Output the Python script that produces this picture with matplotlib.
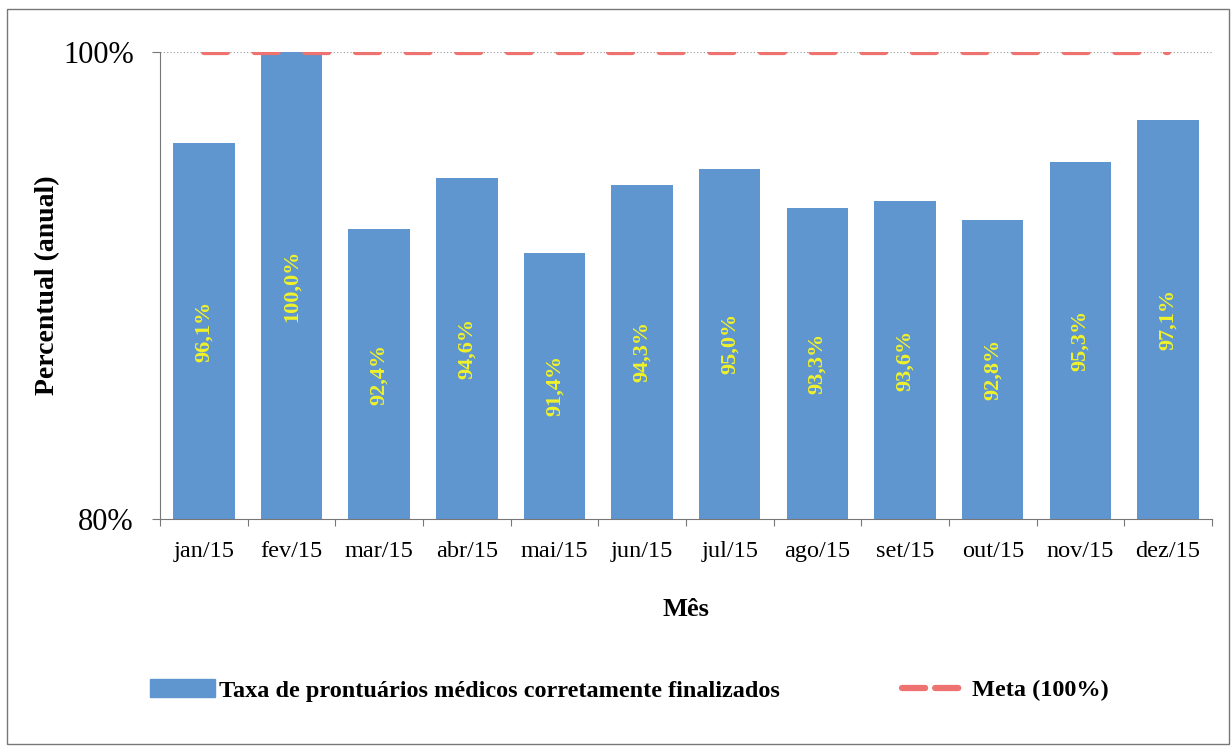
import numpy as np
import matplotlib.pyplot as plt
from matplotlib.patches import Rectangle
from matplotlib.lines import Line2D
from matplotlib.patches import Patch

meses = ["jan/15", "fev/15", "mar/15", "abr/15", "mai/15", "jun/15",
         "jul/15", "ago/15", "set/15", "out/15", "nov/15", "dez/15"]
taxa = [96.1, 100.0, 92.4, 94.6, 91.4, 94.3, 95.0, 93.3, 93.6, 92.8, 95.3, 97.1]
meta = [100] * 12
rotulos = ["96,1%", "100,0%", "92,4%", "94,6%", "91,4%", "94,3%",
           "95,0%", "93,3%", "93,6%", "92,8%", "95,3%", "97,1%"]

plt.rcParams['font.family'] = ['Liberation Serif', 'DejaVu Serif']

fig = plt.figure(figsize=(12.31, 7.53), dpi=100)
ax = fig.add_axes([0.130, 0.311, 0.8545, 0.620])

x = np.arange(len(meses))
cor_barra = "#6096CF"
cor_meta = "#EE7370"
ax.bar(x, [t - 80 for t in taxa], bottom=80, width=0.7, color=cor_barra, zorder=2)
ax.plot(x, meta, color=cor_meta, lw=4.5, dashes=(3.7, 4.4),
        dash_capstyle="round", zorder=3)
ax.axhline(100, color="#999999", lw=0.8, ls=(0, (1, 2)), zorder=1)

# rotulos dentro das barras, no meio da altura
for xi, t, r in zip(x, taxa, rotulos):
    ax.text(xi, (80 + t) / 2, r, rotation=90, ha="center", va="center",
            color="#F0F228", fontsize=16, fontweight="bold")

ax.set_xlim(-0.5, 11.5)
ax.set_ylim(80, 100)
ax.set_yticks([80, 100])
ax.set_yticklabels(["80%", "100%"], fontsize=22)
ax.set_xticks(np.arange(-0.5, 12, 1))
ax.set_xticklabels([])
ax.set_xticks(x, minor=True)
ax.set_xticklabels(meses, minor=True, fontsize=17.5)
ax.tick_params(axis="x", which="minor", length=0, pad=16)
ax.tick_params(axis="x", which="major", length=5, color="#777777", direction="out")
ax.tick_params(axis="y", length=6, color="#777777", pad=13)

for s in ["top", "right"]:
    ax.spines[s].set_visible(False)
for s in ["left", "bottom"]:
    ax.spines[s].set_color("#777777")

ax.set_ylabel("Percentual (anual)", fontsize=20, fontweight="bold", labelpad=2)
ax.set_xlabel("Mês", fontsize=19, fontweight="bold", labelpad=26)

handles = [Patch(color=cor_barra),
           Line2D([0], [0], color=cor_meta, lw=4.5, dashes=(3.7, 1.6), dash_capstyle="round")]
fig.legend(handles, ["Taxa de prontuários médicos corretamente finalizados", "Meta (100%)"],
           loc="center", bbox_to_anchor=(0.511, 0.083), ncol=2, frameon=False,
           prop={"size": 17.5, "weight": "bold"}, columnspacing=5.0, handlelength=2.67,
           handletextpad=0.2)

fig.patches.append(Rectangle((0.006, 0.012), 0.992, 0.976, transform=fig.transFigure,
                             fill=False, edgecolor="#777777", lw=1))

fig.savefig("out.png", dpi=100)
